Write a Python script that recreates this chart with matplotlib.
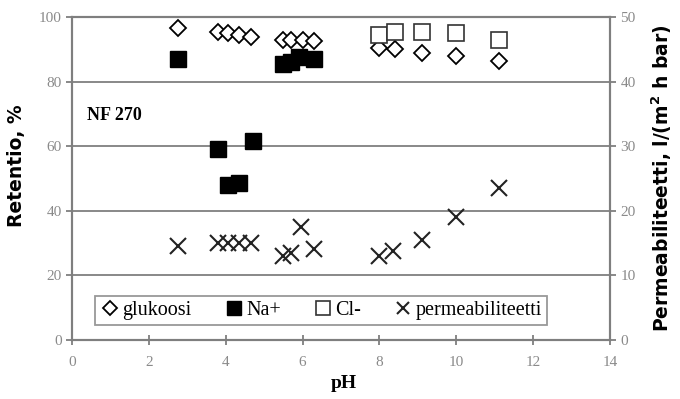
import matplotlib.pyplot as plt
from matplotlib.lines import Line2D

# glucose retention (%)
ph_gluc = [2.75, 3.8, 4.05, 4.35, 4.65, 5.5, 5.7, 6.0, 6.3, 8.0, 8.4, 9.1, 10.0, 11.1]
gluc = [96.5, 95.5, 95, 94.5, 94, 93, 93, 93, 92.5, 90.5, 90, 89, 88, 86.5]

# Na+ retention (%)
ph_na = [2.75, 3.8, 4.05, 4.35, 4.7, 5.5, 5.7, 5.9, 6.3]
na = [87, 59, 48, 48.5, 61.5, 85.5, 86, 87.5, 87]

# Cl- retention (%)
ph_cl = [8.0, 8.4, 9.1, 10.0, 11.1]
cl = [94.5, 95.5, 95.5, 95, 93]

# permeability l/(m2 h bar)
ph_perm = [2.75, 3.8, 4.05, 4.35, 4.65, 5.5, 5.7, 5.95, 6.3, 8.0, 8.35, 9.1, 10.0, 11.1]
perm = [14.5, 15, 15, 15, 15, 13, 13.5, 17.5, 14, 13, 13.8, 15.5, 19, 23.5]

gray = '#7f7f7f'
serif = 'Liberation Serif'

fig = plt.figure(figsize=(6.8, 3.99), dpi=100)
ax = fig.add_axes([0.106, 0.149, 0.791, 0.808])
ax2 = ax.twinx()

ax.set_xlim(0, 14)
ax.set_ylim(0, 100)
ax2.set_ylim(0, 50)
ax.set_xticks(range(0, 15, 2))
ax.set_yticks(range(0, 101, 20))
ax2.set_yticks(range(0, 51, 10))

for y in [20, 40, 60, 80, 100]:
    ax.axhline(y, color=gray, lw=1.3, zorder=0)

ax.plot(ph_gluc, gluc, ls='none', marker='D', ms=8, mfc='white', mec='black', mew=1.3, zorder=3)
ax.plot(ph_na, na, ls='none', marker='s', ms=11, mfc='black', mec='black', zorder=3)
ax.plot(ph_cl, cl, ls='none', marker='s', ms=11, mfc='white', mec='#333333', mew=1.2, zorder=3)
ax2.plot(ph_perm, perm, ls='none', marker='x', ms=11, mec='#222222', mew=1.5, zorder=3)

for a in (ax, ax2):
    for s in a.spines.values():
        s.set_color(gray)
        s.set_linewidth(1.5)
    a.tick_params(colors=gray, labelcolor='#8a8a8a', width=1.3, length=4, labelsize=11)
    for lab in a.get_xticklabels() + a.get_yticklabels():
        lab.set_family(serif)
ax.tick_params(axis='x', direction='inout', length=7, pad=8)

ax.set_ylabel('Retentio, %', fontsize=13.5, fontweight='bold', family='DejaVu Sans', labelpad=8)
ax.yaxis.set_label_coords(-0.085, 0.54)
ax2.set_ylabel('Permeabiliteetti, l/(m$^{\\mathbf{2}}$ h bar)', fontsize=13.5, fontweight='bold',
               family='DejaVu Sans', labelpad=10)
ax.set_xlabel('pH', fontsize=14, fontweight='bold', family=serif)
ax.xaxis.set_label_coords(0.505, -0.11)

ax.text(0.4, 69.5, 'NF 270', fontsize=13, fontweight='bold', family=serif, va='center')

handles = [
    Line2D([], [], ls='none', marker='D', ms=7, mfc='white', mec='black', mew=1.3),
    Line2D([], [], ls='none', marker='s', ms=10, mfc='black', mec='black'),
    Line2D([], [], ls='none', marker='s', ms=10, mfc='white', mec='#333333', mew=1.2),
    Line2D([], [], ls='none', marker='x', ms=9, mec='#222222', mew=1.5),
]
leg = ax.legend(handles, ['glukoosi', 'Na+', 'Cl-', 'permeabiliteetti'], ncol=4,
                loc='lower left', bbox_to_anchor=(0.043, 0.045), frameon=True, fancybox=False,
                prop={'family': serif, 'size': 14.5}, handletextpad=0.1, columnspacing=1.6,
                borderpad=0.25, handlelength=1.0, borderaxespad=0)
leg.get_frame().set_edgecolor(gray)
leg.get_frame().set_linewidth(1.3)

fig.savefig('out.png', dpi=100)
